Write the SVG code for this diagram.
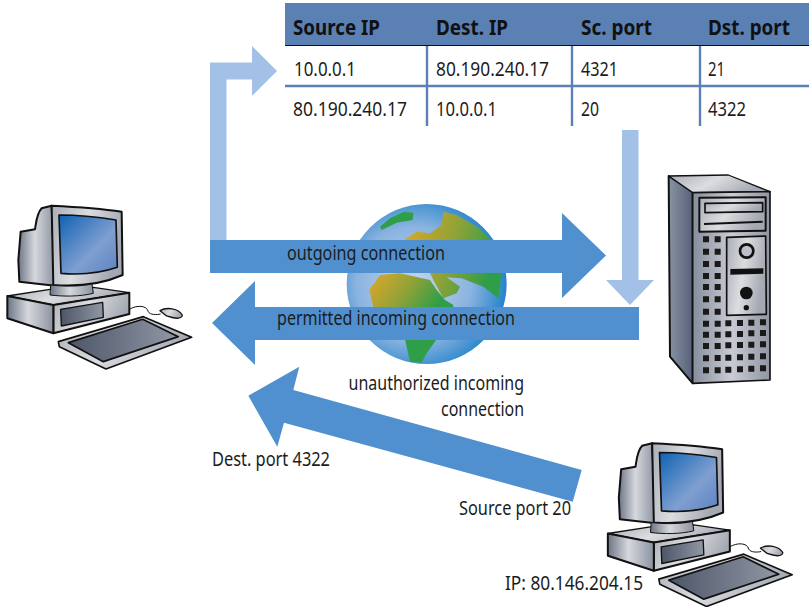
<svg xmlns="http://www.w3.org/2000/svg" xmlns:xlink="http://www.w3.org/1999/xlink" width="809" height="607" viewBox="0 0 809 607">
<style>
text{font-family:"Noto Sans","Open Sans",sans-serif;font-size:20px;fill:#1c1c1c}
.h{font-weight:700;font-size:21px;fill:#111}
.g{stroke:#111;stroke-width:6;stroke-linejoin:round}
.t{stroke:#5b80b3;stroke-width:2.4;fill:none}
.a{fill:#5090cf}
.l{fill:#a3c1e6}
.k{fill:#1a1a1a}
</style>
<defs>
<linearGradient id="metal" x1="0" y1="0" x2="1" y2="0"><stop offset="0" stop-color="#6d7686"/><stop offset=".45" stop-color="#d6d8dd"/><stop offset="1" stop-color="#8b92a0"/></linearGradient>
<linearGradient id="metal2" x1="0" y1="0" x2="1" y2=".3"><stop offset="0" stop-color="#a9adb6"/><stop offset=".5" stop-color="#dcdde0"/><stop offset="1" stop-color="#a4a8b2"/></linearGradient>
<linearGradient id="dark" x1="0" y1="0" x2="1" y2="0"><stop offset="0" stop-color="#4d5668"/><stop offset="1" stop-color="#9097a4"/></linearGradient>
<linearGradient id="scr" x1="0" y1="0" x2="1" y2="1"><stop offset="0" stop-color="#0f62b4"/><stop offset=".6" stop-color="#7f9fd0"/><stop offset="1" stop-color="#5c82c2"/></linearGradient>
<linearGradient id="tower" x1="0" y1="0" x2="1" y2="0"><stop offset="0" stop-color="#858c9b"/><stop offset=".5" stop-color="#c9ccd3"/><stop offset="1" stop-color="#8f95a3"/></linearGradient>
<linearGradient id="side" x1="0" y1="0" x2="1" y2="0"><stop offset="0" stop-color="#8a93a3"/><stop offset="1" stop-color="#55617a"/></linearGradient>
<radialGradient id="sea" cx=".42" cy=".5" r=".6"><stop offset="0" stop-color="#c5d6ee"/><stop offset=".6" stop-color="#8ab3e0"/><stop offset="1" stop-color="#1a7fc8"/></radialGradient>
<linearGradient id="land" x1="0" y1="0" x2="1" y2=".3"><stop offset="0" stop-color="#e2a828"/><stop offset=".55" stop-color="#8fa238"/><stop offset="1" stop-color="#2f9e48"/></linearGradient>
<symbol id="pc" overflow="visible">
<g class="g">
<path fill="url(#metal)" d="M155,47 L125,55 C110,70 108,100 105,118 L62,125 L55,210 L58,275 L165,287 Z"/>
<path fill="url(#metal2)" d="M155,47 C220,50 300,55 365,65 L368,255 C300,285 230,290 160,285 Z"/>
<path fill="url(#scr)" stroke-width="5" d="M177,75 C240,75 300,82 348,90 L352,232 C300,250 240,255 183,250 Z"/>
<path fill="#222" stroke-width="2" d="M140,318 Q220,308 295,312 Q220,332 140,322Z"/>
<path fill="url(#metal2)" stroke-width="4" d="M22,318 L150,298 L280,292 L388,308 L160,345 Z"/>
<path fill="url(#metal2)" d="M160,345 L388,308 L388,372 L160,430 Z"/>
<path fill="url(#metal)" d="M22,318 L160,345 L160,430 L22,385 Z"/>
<path fill="url(#dark)" stroke-width="4" d="M182,358 L308,337 L310,382 L184,408 Z"/>
<path fill="url(#metal)" stroke-width="3" d="M152,285 C190,290 240,290 276,282 L280,310 C240,320 190,320 150,315 Z"/>
<path fill="none" stroke-width="3" d="M388,358 C410,345 440,345 445,365 C450,375 470,375 482,372"/>
<path fill="url(#metal2)" stroke-width="4" d="M480,362 C500,350 535,355 547,375 C545,390 520,385 500,378 Z"/>
<path fill="url(#metal2)" stroke-width="5" d="M175,455 L430,380 L575,442 L318,537 L178,470 Z"/>
<path fill="url(#dark)" stroke-width="5" d="M205,458 L428,388 L535,440 L310,515 Z"/>
</g>
</symbol>
</defs>

<g id="globe" transform="translate(330,190) scale(.3333)">
<circle cx="290" cy="282" r="240" fill="url(#sea)"/>
<path fill="#2f9e48" d="M150,110 L180,85 L222,65 L250,68 L248,90 L200,98 L155,120Z"/>
<path fill="url(#land)" d="M340,65 L380,75 L440,110 L480,145 L515,250 L505,325 L460,290 L395,265 L350,262 L390,290 L380,310 L340,325 L310,270 L300,248 L225,148 L260,125 L300,130 L335,105Z"/>
<path fill="url(#land)" d="M118,300 L150,255 L210,250 L300,270 L320,300 L345,330 L370,345 L370,352 L130,352Z"/>
<path fill="#2f9e48" d="M225,448 L320,448 L290,490 L275,518 L240,515 Z"/>
</g>

<g id="table">
<rect x="285" y="3" width="524" height="42" fill="#5b80b3"/>
<path d="M285,45.5H809" stroke="#111" stroke-width="1.2"/>
<path class="t" d="M285,86H809M427,46V126M572,46V126M700,46V126"/>
<text class="h" x="293" y="35" textLength="87" lengthAdjust="spacingAndGlyphs">Source IP</text>
<text class="h" x="436" y="35" textLength="72" lengthAdjust="spacingAndGlyphs">Dest. IP</text>
<text class="h" x="581" y="35" textLength="71" lengthAdjust="spacingAndGlyphs">Sc. port</text>
<text class="h" x="708" y="35" textLength="82" lengthAdjust="spacingAndGlyphs">Dst. port</text>
<text x="294" y="76" textLength="62" lengthAdjust="spacingAndGlyphs">10.0.0.1</text>
<text x="436" y="76" textLength="113" lengthAdjust="spacingAndGlyphs">80.190.240.17</text>
<text x="581" y="76" textLength="37" lengthAdjust="spacingAndGlyphs">4321</text>
<text x="708" y="76" textLength="17" lengthAdjust="spacingAndGlyphs">21</text>
<text x="293" y="116" textLength="114" lengthAdjust="spacingAndGlyphs">80.190.240.17</text>
<text x="436" y="116" textLength="61" lengthAdjust="spacingAndGlyphs">10.0.0.1</text>
<text x="581" y="116" textLength="18" lengthAdjust="spacingAndGlyphs">20</text>
<text x="708" y="116" textLength="38" lengthAdjust="spacingAndGlyphs">4322</text>
</g>

<g id="connectors">
<path class="l" d="M210,241V62.5H252V46L277,71L252,96V79.5H226.5V241Z"/>
<path class="l" d="M622,130H638.500V280H654L630,305L606,280H622Z"/>
<path class="a" d="M210,240H562V213L606,255.500L562,298V273H210Z"/>
<path class="a" d="M639,307H255V281L212,323L255,365V340H639Z"/>
<path class="a" d="M248.300,395.700L299.300,366.700L293.300,390L581.700,470L572.700,501.700L284,422.700L277.300,446.700Z"/>
</g>

<g id="labels">
<text x="287" y="260" textLength="158" lengthAdjust="spacingAndGlyphs">outgoing connection</text>
<text x="277" y="325" textLength="238" lengthAdjust="spacingAndGlyphs">permitted incoming connection</text>
<text x="348.500" y="390" textLength="175.500" lengthAdjust="spacingAndGlyphs">unauthorized incoming</text>
<text x="441" y="416" textLength="83" lengthAdjust="spacingAndGlyphs">connection</text>
<text x="212" y="466" textLength="118" lengthAdjust="spacingAndGlyphs">Dest. port 4322</text>
<text x="459" y="515" textLength="112" lengthAdjust="spacingAndGlyphs">Source port 20</text>
<text x="505" y="590" textLength="138" lengthAdjust="spacingAndGlyphs">IP: 80.146.204.15</text>
</g>

<g id="client" transform="translate(0,190) scale(.3333)"><use href="#pc"/></g>
<g id="remote" transform="translate(600.500,427.500) scale(.3333)"><use href="#pc"/></g>

<g id="server" transform="translate(650,160) scale(.3333)">
<g class="g">
<path fill="url(#side)" d="M56,48 L128,95 L128,670 L60,590 Z"/>
<path fill="url(#metal2)" stroke-width="4" d="M56,48 L235,45 L360,95 L128,98 Z"/>
<path fill="url(#tower)" stroke-width="5" d="M128,98 L360,95 L360,660 L128,670 Z"/>
<path fill="url(#metal2)" d="M148,113 L347,112 L347,212 L148,215 Z"/>
<path fill="url(#metal2)" stroke-width="5" d="M165,130 L338,128 L338,155 L165,158 Z"/>
<path fill="none" stroke-width="6" d="M162,192 L338,185"/>
<path fill="url(#metal2)" stroke-width="5" d="M230,232 L347,228 L349,463 L230,466 Z"/>
<path fill="#111" stroke="none" d="M241,327 L340,325 L340,341 L241,344 Z"/>
<circle cx="290" cy="273" r="20" fill="#bcc0c8" stroke-width="8"/>
<circle cx="289" cy="399" r="19" fill="#111" stroke="none"/>
<circle cx="289" cy="443" r="8" fill="#111" stroke="none"/>
</g>
<g class="k">
<path d="M159,229h18v18h-18zM194,229h18v18h-18zM159,266h18v18h-18zM194,266h18v18h-18zM159,303h18v18h-18zM194,303h18v18h-18zM159,339h18v18h-18zM194,339h18v18h-18zM159,372h18v18h-18zM194,372h18v18h-18zM159,409h18v18h-18zM194,409h18v18h-18zM159,446h18v18h-18zM194,446h18v18h-18z"/>
<path d="M159,482h18v18h-18zM194,482h18v18h-18zM226,481h18v18h-18zM261,480h18v18h-18zM295,479h18v18h-18zM330,478h18v18h-18z"/>
<path d="M159,515h18v18h-18zM194,515h18v18h-18zM226,514h18v18h-18zM261,513h18v18h-18zM295,511h18v18h-18zM330,510h18v18h-18z"/>
<path d="M159,549h18v18h-18zM194,549h18v18h-18zM226,547h18v18h-18zM261,546h18v18h-18zM295,545h18v18h-18zM330,544h18v18h-18z"/>
<path d="M159,586h18v18h-18zM194,585h18v18h-18zM226,584h18v18h-18zM261,583h18v18h-18zM295,581h18v18h-18zM330,580h18v18h-18z"/>
<path d="M159,622h18v18h-18zM194,622h18v18h-18zM226,620h18v18h-18zM261,619h18v18h-18zM295,617h18v18h-18zM330,616h18v18h-18z"/>
</g>
</g>
</svg>
